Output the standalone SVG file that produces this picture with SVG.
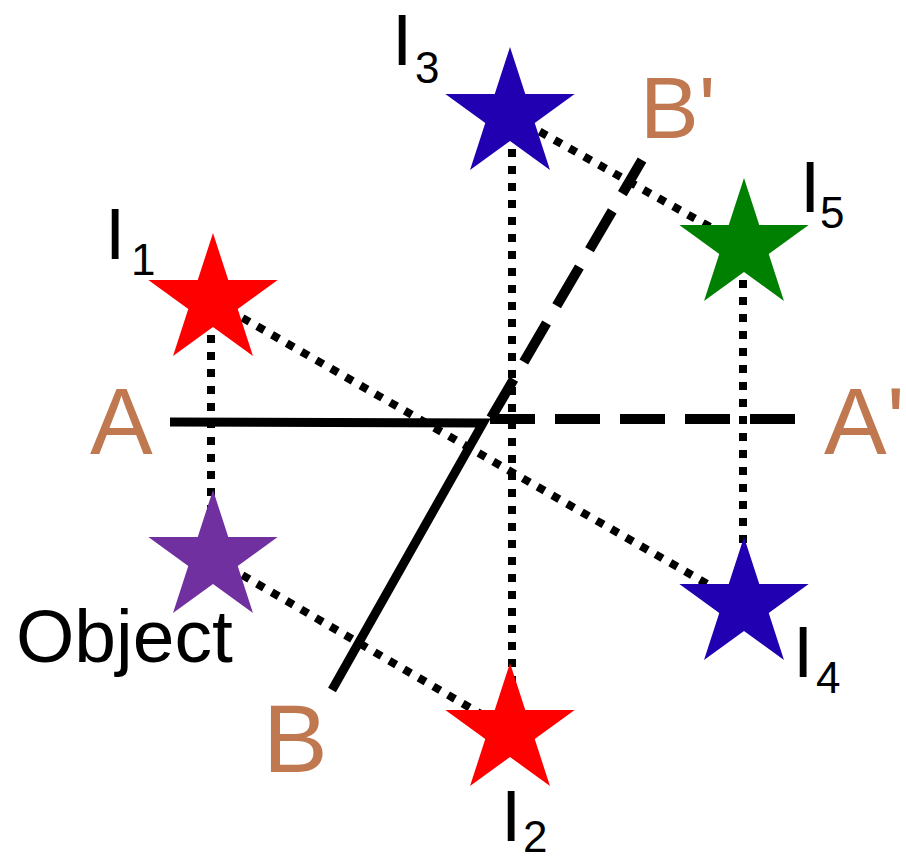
<svg xmlns="http://www.w3.org/2000/svg" xmlns:xlink="http://www.w3.org/1999/xlink" width="906" height="862" viewBox="0 0 906 862">
<style>
.dot{fill:none;stroke:#000;stroke-width:8;stroke-dasharray:8 9}
.solid{fill:none;stroke:#000;stroke-width:9;stroke-linejoin:miter}
.dash{fill:none;stroke:#000;stroke-width:10;stroke-dasharray:45 20}
.lbl{font-family:"Liberation Sans",Arial,sans-serif;fill:#c07850}
.txt{font-family:"Liberation Sans",Arial,sans-serif;fill:#000}
.main{font-size:73px}
.sub{font-size:44px}
</style>
<defs>
<polygon id="star" points="0,-68 15.28,-21.03 64.67,-21.01 24.73,8.03 39.97,55.01 0,26 -39.97,55.01 -24.73,8.03 -64.67,-21.01 -15.28,-21.03"/>
</defs>
<rect width="906" height="862" fill="#fff"/>
<g id="connectors">
<line class="dot" x1="211" y1="301" x2="211" y2="558"/>
<line class="dot" x1="512" y1="115" x2="512" y2="731"/>
<line class="dot" x1="743" y1="246" x2="743" y2="605"/>
<line class="dot" x1="213" y1="301" x2="744" y2="605"/>
<line class="dot" x1="213" y1="558" x2="510" y2="731"/>
<line class="dot" x1="510" y1="115" x2="744" y2="246"/>
<path class="solid" d="M170,422 L483,423 L332,690"/>
<line class="dash" x1="490" y1="419" x2="795" y2="419"/>
<line class="dash" x1="491" y1="418" x2="642" y2="160"/>
</g>
<g id="I1"><use xlink:href="#star" href="#star" x="213" y="301" fill="#ff0000"/>
<text class="txt main" x="105" y="259">I</text><text class="txt sub" x="131" y="275">1</text></g>
<g id="object"><use xlink:href="#star" href="#star" x="213" y="558" fill="#7030a0"/>
<text class="txt" x="16" y="662" font-size="75">Object</text></g>
<g id="I2"><use xlink:href="#star" href="#star" x="510" y="731" fill="#ff0000"/>
<text class="txt main" x="501" y="841">I</text><text class="txt sub" x="523" y="852">2</text></g>
<g id="I3"><use xlink:href="#star" href="#star" x="510" y="115" fill="#2000b0"/>
<text class="txt main" x="392" y="65">I</text><text class="txt sub" x="415" y="83">3</text></g>
<g id="I4"><use xlink:href="#star" href="#star" x="744" y="605" fill="#2000b0"/>
<text class="txt main" x="793" y="677">I</text><text class="txt sub" x="816" y="693">4</text></g>
<g id="I5"><use xlink:href="#star" href="#star" x="744" y="246" fill="#008000"/>
<text class="txt main" x="800" y="212">I</text><text class="txt sub" x="820" y="228">5</text></g>
<g id="labels">
<text class="lbl" x="90" y="454" font-size="94">A</text>
<text class="lbl" x="824" y="454" font-size="94">A'</text>
<text class="lbl" x="263" y="772" font-size="97">B</text>
<text class="lbl" x="640" y="138" font-size="88">B'</text>
</g>
</svg>
